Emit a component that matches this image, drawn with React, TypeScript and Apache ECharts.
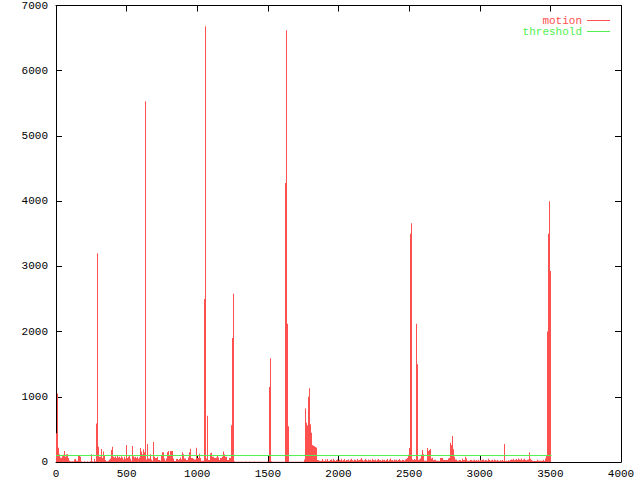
import React, { useEffect, useRef } from "react";
import * as echarts from "echarts";

// x spacing of the sampled motion values (one sample per screen column of the original plot)
const xStep = 4000 / 565;
const thresholdValue = 100;
const thresholdRange = [0, 3509];
const xTicks = [0, 500, 1000, 1500, 2000, 2500, 3000, 3500, 4000];
const yTicks = [0, 1000, 2000, 3000, 4000, 5000, 6000, 7000];

const motionValues = [
  440, 1050, 220, 120, 70, 60, 90, 110, 170, 80,
  120, 120, 60, 20, 10, 10, 10, 10, 40, 45,
  20, 20, 100, 100, 80, 10, 5, 5, 10, 5,
  5, 10, 5, 5, 10, 120, 10, 5, 45, 10,
  590, 3200, 235, 80, 80, 200, 60, 160, 100, 30,
  10, 10, 20, 40, 50, 185, 235, 80, 70, 90,
  60, 100, 70, 80, 60, 90, 70, 40, 80, 50,
  260, 60, 80, 100, 50, 20, 245, 90, 70, 80,
  60, 80, 50, 70, 215, 160, 120, 195, 150, 5530,
  40, 275, 55, 55, 120, 40, 20, 305, 80, 60,
  60, 80, 30, 30, 20, 105, 150, 150, 55, 20,
  55, 150, 170, 100, 170, 170, 170, 55, 15, 15,
  45, 45, 30, 45, 70, 40, 150, 120, 55, 55,
  30, 30, 70, 150, 205, 60, 60, 50, 40, 40,
  220, 60, 60, 125, 60, 20, 20, 20, 2500, 6680,
  55, 710, 30, 30, 130, 140, 80, 80, 60, 60,
  70, 105, 70, 30, 60, 60, 80, 160, 120, 80,
  80, 30, 30, 60, 60, 565, 1900, 2580, 10, 5,
  5, 5, 8, 5, 5, 8, 5, 5, 5, 8,
  5, 5, 5, 8, 5, 5, 5, 5, 8, 5,
  5, 5, 5, 8, 5, 5, 5, 5, 5, 5,
  5, 8, 5, 1150, 1590, 10, 5, 5, 5, 5,
  5, 5, 5, 5, 5, 5, 5, 5, 5, 4280,
  6620, 2120, 550, 5, 5, 5, 5, 5, 5, 5,
  5, 5, 5, 5, 5, 5, 5, 5, 40, 820,
  600, 560, 1000, 1130, 580, 450, 260, 250, 240, 230,
  220, 30, 25, 20, 15, 20, 45, 20, 15, 40,
  20, 45, 15, 20, 30, 40, 20, 50, 25, 15,
  30, 40, 20, 35, 25, 50, 20, 30, 45, 20,
  30, 25, 40, 20, 35, 50, 25, 20, 40, 30,
  20, 45, 25, 30, 40, 60, 35, 20, 25, 45,
  30, 20, 40, 25, 35, 20, 50, 30, 25, 40,
  20, 35, 45, 25, 30, 20, 40, 25, 35, 20,
  30, 45, 20, 35, 55, 25, 30, 20, 40, 25,
  35, 20, 30, 45, 25, 20, 35, 30, 20, 40,
  45, 60, 110, 215, 3500, 3660, 40, 30, 45, 35,
  2120, 1500, 30, 40, 55, 110, 185, 120, 20, 20,
  20, 215, 170, 185, 200, 55, 65, 25, 35, 35,
  20, 20, 20, 15, 60, 60, 60, 35, 30, 30,
  30, 30, 55, 60, 295, 260, 400, 195, 80, 40,
  40, 20, 20, 30, 30, 15, 55, 30, 30, 80,
  55, 20, 20, 20, 30, 30, 20, 25, 35, 20,
  30, 20, 35, 20, 30, 25, 35, 40, 20, 30,
  25, 20, 50, 30, 20, 25, 35, 20, 40, 25,
  20, 30, 20, 15, 25, 20, 30, 15, 275, 15,
  20, 15, 25, 20, 30, 40, 35, 50, 25, 35,
  45, 30, 55, 40, 35, 55, 25, 40, 50, 30,
  25, 35, 40, 150, 50, 30, 20, 15, 15, 15,
  15, 35, 20, 20, 20, 20, 20, 35, 15, 55,
  100, 2000, 3500, 4000, 2930,
];

const RED = "#ff5050";
const GREEN = "#50f050";
const FONT = "'Liberation Mono', 'DejaVu Sans Mono', monospace";

export default function App() {
  const ref = useRef<HTMLDivElement>(null);
  useEffect(() => {
    if (!ref.current) return;
    const chart = echarts.init(ref.current, null, { renderer: "svg" });
    const axisCommon = {
      type: "value" as const,
      axisLine: { show: true, onZero: false, lineStyle: { color: "#000", width: 1 } },
      axisTick: { show: true, inside: true, length: 6, lineStyle: { color: "#000" } },
      splitLine: { show: false },
      minorTick: { show: false },
    };
    const plain = (v: number) => String(v);
    chart.setOption({
      animation: false,
      backgroundColor: "#fff",
      grid: { left: 56, right: 19, top: 4, bottom: 18, containLabel: false },
      legend: {
        orient: "vertical",
        right: 30,
        top: 15,
        padding: 0,
        align: "right",
        itemWidth: 23,
        itemHeight: 1,
        itemGap: 0,
        selectedMode: false,
        textStyle: { fontFamily: FONT, fontSize: 11, lineHeight: 11 },
        data: [
          { name: "motion", icon: "rect", textStyle: { color: RED } },
          { name: "threshold", icon: "rect", textStyle: { color: GREEN } },
        ],
      },
      xAxis: [
        {
          ...axisCommon,
          position: "bottom",
          min: xTicks[0],
          max: xTicks[xTicks.length - 1],
          interval: xTicks[1] - xTicks[0],
          axisLabel: { color: "#000", fontFamily: FONT, fontSize: 11, margin: 6, formatter: plain },
        },
        {
          ...axisCommon,
          position: "top",
          min: xTicks[0],
          max: xTicks[xTicks.length - 1],
          interval: xTicks[1] - xTicks[0],
          axisLabel: { show: false },
        },
      ],
      yAxis: [
        {
          ...axisCommon,
          position: "left",
          min: yTicks[0],
          max: yTicks[yTicks.length - 1],
          interval: yTicks[1] - yTicks[0],
          axisLabel: { color: "#000", fontFamily: FONT, fontSize: 11, margin: 8, formatter: plain },
        },
        {
          ...axisCommon,
          position: "right",
          min: yTicks[0],
          max: yTicks[yTicks.length - 1],
          interval: yTicks[1] - yTicks[0],
          axisLabel: { show: false },
        },
      ],
      series: [
        {
          name: "motion",
          type: "bar",
          xAxisIndex: 0,
          yAxisIndex: 0,
          barWidth: 1,
          itemStyle: { color: RED },
          data: motionValues.map((v, i) => [(i + 0.5) * xStep, v]),
          z: 2,
        },
        {
          name: "threshold",
          type: "line",
          xAxisIndex: 0,
          yAxisIndex: 0,
          showSymbol: false,
          symbol: "none",
          lineStyle: { color: GREEN, width: 1 },
          itemStyle: { color: GREEN },
          data: thresholdRange.map((x) => [x, thresholdValue]),
          z: 3,
        },
      ],
    });
    return () => chart.dispose();
  }, []);
  return (
    <div
      ref={ref}
      style={{ position: "fixed", left: 0, top: 0, width: 640, height: 480, background: "#fff" }}
    />
  );
}
